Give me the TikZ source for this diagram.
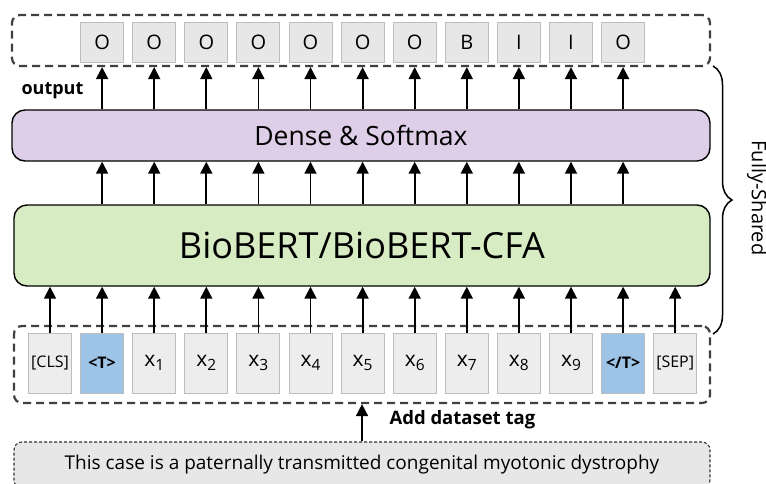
\documentclass[tikz,border=0pt]{standalone}
\usepackage{fontspec}
\setmainfont{Open Sans}
\usetikzlibrary{arrows.meta,decorations.pathreplacing,positioning}

\definecolor{tokgray}{HTML}{EDEDED}
\definecolor{labgray}{HTML}{E7E7E7}
\definecolor{tagblue}{HTML}{9DC3E6}
\definecolor{densepurple}{HTML}{DECEE8}
\definecolor{bertgreen}{HTML}{D8ECC4}
\definecolor{boxgray}{HTML}{BDBDBD}

\newcommand\xtok[1]{{\fontsize{21}{21}\selectfont x}\raisebox{-3.5pt}{\fontsize{15.5}{15.5}\selectfont#1}}

\begin{document}
\begin{tikzpicture}[x=1pt,y=-1pt,
    tok/.style={draw=boxgray,line width=1pt,minimum width=43pt,minimum height=60pt,inner sep=0pt,font=\fontsize{16}{16}\selectfont},
    lbl/.style={draw=boxgray,line width=1pt,fill=labgray,minimum width=43pt,minimum height=40pt,inner sep=0pt,font=\fontsize{20}{20}\selectfont},
    group/.style={draw=black!75,line width=2.2pt,dash pattern=on 8pt off 5pt,rounded corners=8pt,inner sep=0pt},
    layer/.style={draw,line width=1.4pt,rounded corners=13pt,inner sep=0pt},
    up/.style={-{Triangle[length=12pt,width=12pt]},line width=1.8pt}]

\useasboundingbox (0,0) rectangle (766,483);

\node[group,minimum width=698pt,minimum height=51pt] (outbox) at (361,40.5) {};
\node[group,minimum width=696pt,minimum height=77pt] (inbox) at (362,364.5) {};

\node[layer,fill=densepurple,minimum width=698pt,minimum height=51pt,font=\fontsize{26.5}{26.5}\selectfont] (dense) at (361,135.5) {Dense \& Softmax};
\node[layer,fill=bertgreen,minimum width=696pt,minimum height=81pt,font=\fontsize{36}{36}\selectfont] (bert) at (362,245.5) {BioBERT/BioBERT-CFA};

\begin{scope}
\clip (0,0) rectangle (766,483);
\node[draw=black!80,line width=1.1pt,dash pattern=on 3pt off 2pt,rounded corners=8pt,fill=labgray,minimum width=696pt,minimum height=46pt,inner sep=0pt,font=\fontsize{19}{19}\selectfont] (sentence) at (362,465) {This case is a paternally transmitted congenital myotonic dystrophy};
\end{scope}

\foreach \t/\c [count=\i from 0] in {{[CLS]}/tokgray, {\bfseries <T>}/tagblue, \xtok1/tokgray, \xtok2/tokgray, \xtok3/tokgray, \xtok4/tokgray, \xtok5/tokgray, \xtok6/tokgray, \xtok7/tokgray, \xtok8/tokgray, \xtok9/tokgray, {\bfseries </T>}/tagblue, {[SEP]}/tokgray}
    \node[tok,fill=\c] (tok\i) at (50+52.1*\i,363) {\t};

\foreach \t [count=\i] in {O,O,O,O,O,O,O,B,I,I,O}
    \node[lbl] (lab\i) at (50+52.1*\i,42) {\t};

\foreach \i in {0,...,12}
    \draw[up] (tok\i.north) -- (tok\i.north |- bert.south);
\foreach \i in {1,...,11}
    \draw[up] (lab\i |- bert.north) -- (lab\i |- dense.south);
\foreach \i in {1,...,11}
    \draw[up] (lab\i |- dense.north) -- (lab\i |- outbox.south);

\draw[up] (sentence.north) -- (sentence.north |- inbox.south);
\node[anchor=west,font=\bfseries\fontsize{18.5}{18.5}\selectfont] (addtag) at (386,420) {Add dataset tag};
\node[anchor=west,font=\bfseries\fontsize{18}{18}\selectfont] (outlabel) at (18,91) {output};

\coordinate (braceTop) at (713,66);
\coordinate (braceBot) at (713,334);
\draw[line width=1.5pt,decorate,decoration={brace,amplitude=19pt}] (braceTop) -- (braceBot);
\node[rotate=-90,font=\fontsize{20}{20}\selectfont] (shared) at (757,198) {Fully-Shared};

\end{tikzpicture}
\end{document}
